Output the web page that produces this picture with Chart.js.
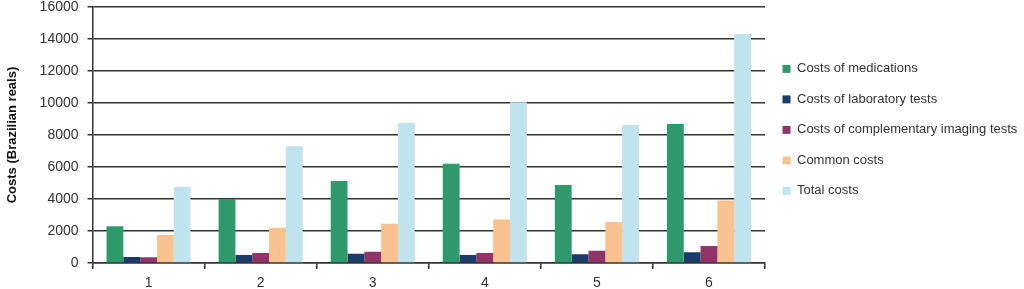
<!DOCTYPE html>
<html lang="en">
<head>
    <meta charset="UTF-8">
    <title>Costs chart</title>
    <script src="https://cdn.jsdelivr.net/npm/chart.js"></script>
    <style>
        html, body { margin: 0; padding: 0; background: #fff; }
        #wrap { width: 1024px; height: 289px; }
    </style>
</head>
<body>
    <div id="wrap"><canvas id="myChart"></canvas></div>
    <script>
        var categories = ['1', '2', '3', '4', '5', '6'];
        var medications = [2300, 4000, 5125, 6200, 4875, 8690];
        var laboratory = [375, 500, 580, 500, 540, 665];
        var imaging = [360, 625, 700, 625, 770, 1060];
        var common = [1750, 2200, 2450, 2725, 2560, 3910];
        var total = [4750, 7290, 8750, 10040, 8625, 14290];

        var seriesNames = ['Costs of medications', 'Costs of laboratory tests',
            'Costs of complementary imaging tests', 'Common costs', 'Total costs'];
        var seriesData = [medications, laboratory, imaging, common, total];
        var seriesColors = ['#2e9a6b', '#1b3c6a', '#8f3569', '#f9c28f', '#bfe4ee'];

        Chart.defaults.font.family = '"Liberation Sans", Arial, sans-serif';
        Chart.defaults.color = '#333';

        var ctx = document.getElementById('myChart').getContext('2d');
        var myChart = new Chart(ctx, {
            type: 'bar',
            data: {
                labels: categories,
                datasets: seriesNames.map(function(name, i) {
                    return {
                        label: name,
                        data: seriesData[i],
                        backgroundColor: seriesColors[i],
                        borderWidth: 0,
                        categoryPercentage: 0.75,
                        barPercentage: 1.0
                    };
                })
            },
            options: {
                responsive: true,
                maintainAspectRatio: false,
                animation: false,
                layout: { padding: { left: 3, top: 0, right: 5, bottom: 0 } },
                plugins: {
                    tooltip: { enabled: false },
                    legend: {
                        position: 'right',
                        align: 'start',
                        title: { display: true, text: '', padding: { top: 30.5, bottom: 0 } },
                        labels: {
                            boxWidth: 8,
                            boxHeight: 8,
                            padding: 17.5,
                            color: '#333',
                            font: { size: 13 }
                        }
                    }
                },
                scales: {
                    x: {
                        grid: {
                            drawOnChartArea: false,
                            drawTicks: true,
                            tickLength: 6,
                            color: '#333',
                            lineWidth: 1.5
                        },
                        border: { color: '#333', width: 1.5 },
                        ticks: { font: { size: 14, lineHeight: 1.0 }, padding: 7, color: '#333' },
                        afterFit: function(scale) { scale.height = 26; }
                    },
                    y: {
                        min: 0,
                        max: 16000,
                        ticks: {
                            stepSize: 2000,
                            font: { size: 14 },
                            padding: 9,
                            color: '#333',
                            callback: function(v) { return String(v); }
                        },
                        grid: { color: '#333', lineWidth: 1.5, tickLength: 5 },
                        border: { color: '#333', width: 1.5 },
                        title: {
                            display: true,
                            text: 'Costs (Brazilian reals)',
                            font: { size: 13, weight: 'bold' },
                            color: '#111',
                            padding: { top: 2, bottom: 10 }
                        },
                        afterFit: function(scale) {
                            scale.paddingTop = 7;
                            scale.paddingBottom = 0;
                        }
                    }
                }
            }
        });
    </script>
</body>
</html>
